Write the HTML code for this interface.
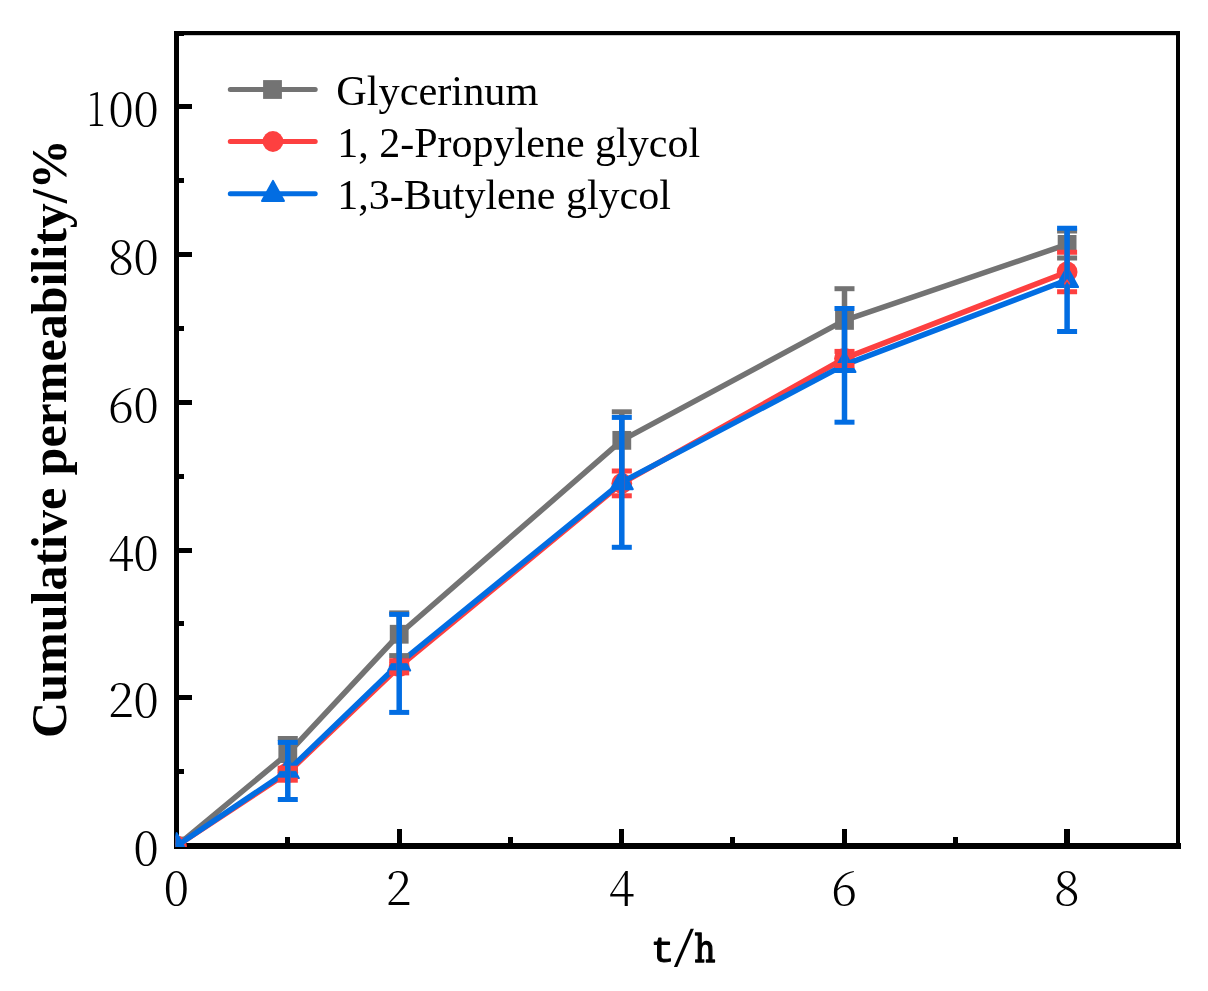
<!DOCTYPE html>
<html lang="en"><head><meta charset="utf-8"><title>Cumulative permeability</title>
<style>
html,body{margin:0;padding:0;background:#fff;width:1208px;height:991px;overflow:hidden}
svg{display:block;will-change:transform}
.tk{font-family:"Noto Serif CJK SC","Liberation Serif",serif;font-weight:300;font-size:47.3px;fill:#000}
.lg{font-family:"Liberation Serif",serif;font-size:42.3px;fill:#000}
.yl{font-family:"Liberation Serif",serif;font-weight:700;font-size:50px;fill:#000}
</style></head><body>
<svg width="1208" height="991" viewBox="0 0 1208 991">
<rect width="1208" height="991" fill="#fff"/>
<defs><clipPath id="pa"><rect x="175.5" y="33" width="1003" height="814"/></clipPath></defs>
<g fill="#000">
<rect x="174" y="31" width="5" height="818"/>
<rect x="174" y="843" width="1007" height="6"/>
<rect x="174" y="31" width="1006" height="4.2"/>
<rect x="1176" y="31" width="4" height="817"/>
<rect x="178" y="769" width="6" height="5"/>
<rect x="178" y="695" width="14" height="5"/>
<rect x="178" y="621" width="6" height="5"/>
<rect x="178" y="548" width="14" height="5"/>
<rect x="178" y="474" width="6" height="5"/>
<rect x="178" y="400" width="14" height="5"/>
<rect x="178" y="326" width="6" height="5"/>
<rect x="178" y="252" width="14" height="5"/>
<rect x="178" y="178" width="6" height="5"/>
<rect x="178" y="104" width="14" height="5"/>
<rect x="178" y="31" width="6" height="5"/>
<rect x="285" y="837" width="5" height="7"/>
<rect x="397" y="829" width="5" height="15"/>
<rect x="508" y="837" width="5" height="7"/>
<rect x="619" y="829" width="5" height="15"/>
<rect x="730" y="837" width="5" height="7"/>
<rect x="842" y="829" width="5" height="15"/>
<rect x="953" y="837" width="5" height="7"/>
<rect x="1064" y="829" width="6" height="15"/>
</g>
<g class="tk">
<text x="158.2" y="864.6" text-anchor="end" letter-spacing="-0.6">0</text>
<text x="158.2" y="717.1" text-anchor="end" letter-spacing="-0.6">20</text>
<text x="158.2" y="570.1" text-anchor="end" letter-spacing="-0.6">40</text>
<text x="158.2" y="422.1" text-anchor="end" letter-spacing="-0.6">60</text>
<text x="158.2" y="274.1" text-anchor="end" letter-spacing="-0.6">80</text>
<text x="158.2" y="126.1" text-anchor="end" letter-spacing="-0.6">00</text>
<text transform="translate(87 126.1) scale(0.72 1)">1</text>
<text x="176.2" y="905" text-anchor="middle">0</text>
<text x="398.86" y="905" text-anchor="middle">2</text>
<text x="621.52" y="905" text-anchor="middle">4</text>
<text x="844.18" y="905" text-anchor="middle">6</text>
<text x="1066.84" y="905" text-anchor="middle">8</text>
</g>
<g font-size="100" fill="#000" stroke="#000" stroke-linejoin="round"><text transform="matrix(0.4023 0 0 0.3729 650.58 962.35)" font-family="Liberation Mono, monospace" stroke-width="2.5">t</text><text transform="matrix(0.5583 0 0 0.3928 672.78 959.83)" font-family="Noto Serif CJK SC, Liberation Serif, serif" font-weight="700" stroke="none">/</text><text transform="matrix(0.3295 0 0 0.3949 694.34 962.31)" font-family="DejaVu Serif, serif" stroke-width="3.5">h</text></g>
<text class="yl" transform="translate(65.7 438.6) rotate(-90)" text-anchor="middle">Cumulative permeability/%</text>
<g clip-path="url(#pa)" fill="none" stroke-width="5" stroke-linejoin="round" stroke-linecap="butt">
<g stroke="#737373" stroke-width="5.5"><polyline points="176.5,846 287.8,753.6 399.2,634.25 621.8,440.35 844.5,320.4 1067.1,244.4"/></g>
<g fill="#737373"><rect x="167.1" y="836.6" width="18.8" height="18.8"/><rect x="278.4" y="744.2" width="18.8" height="18.8"/><rect x="389.8" y="624.85" width="18.8" height="18.8"/><rect x="612.4" y="430.95" width="18.8" height="18.8"/><rect x="835.1" y="311" width="18.8" height="18.8"/><rect x="1057.7" y="235" width="18.8" height="18.8"/></g>
<g stroke="#fd4040" stroke-width="5.5"><polyline points="176.5,846 287.8,772.7 399.2,666.7 621.8,483.4 844.5,358.4 1067.1,271.95"/></g>
<g fill="#fd4040"><circle cx="176.5" cy="846" r="10.4"/><circle cx="287.8" cy="772.7" r="10.4"/><circle cx="399.2" cy="666.7" r="10.4"/><circle cx="621.8" cy="483.4" r="10.4"/><circle cx="844.5" cy="358.4" r="10.4"/><circle cx="1067.1" cy="271.95" r="10.4"/></g>
<g stroke="#026de2" stroke-width="5.5"><polyline points="176.5,846 287.8,770.95 399.2,663.4 621.8,482.1 844.5,364.9 1067.1,279.95"/></g>
<g fill="#026de2" stroke="#026de2" stroke-width="2" stroke-linejoin="round"><path d="M176.5 833.1L187.5 853.1L165.5 853.1Z"/><path d="M287.8 758.05L298.8 778.05L276.8 778.05Z"/><path d="M399.2 650.5L410.2 670.5L388.2 670.5Z"/><path d="M621.8 469.2L632.8 489.2L610.8 489.2Z"/><path d="M844.5 352L855.5 372L833.5 372Z"/><path d="M1067.1 267.05L1078.1 287.05L1056.1 287.05Z"/></g>
<g stroke="#737373"><path stroke-width="5.5" d="M287.8 738.5V768.7"/><path d="M277.8 738.5H297.8"/><path d="M277.8 768.7H297.8"/><path stroke-width="5.5" d="M399.2 612.9V655.6"/><path d="M389.2 612.9H409.2"/><path d="M389.2 655.6H409.2"/><path stroke-width="5.5" d="M621.8 411.8V471"/><path d="M611.8 411.8H631.8"/><path stroke-width="4" d="M612.3 471H631.3"/><path stroke-width="5.5" d="M844.5 288.7V351.4"/><path d="M834.5 288.7H854.5"/><path stroke-width="4" d="M835 351.4H854"/><path stroke-width="5.5" d="M1067.1 230.9V257.9"/><path d="M1057.1 230.9H1077.1"/><path d="M1057.1 257.9H1077.1"/></g>
<g stroke="#fd4040"><path stroke-width="5.5" d="M287.8 768.2V780.2"/><path d="M277.8 768.2H297.8"/><path d="M277.8 780.2H297.8"/><path stroke-width="5.5" d="M399.2 660.7V672.9"/><path d="M389.2 660.7H409.2"/><path d="M389.2 672.9H409.2"/><path stroke-width="5.5" d="M621.8 471V495.8"/><path d="M611.8 471H631.8"/><path d="M611.8 495.8H631.8"/><path stroke-width="5.5" d="M844.5 351.4V365.5"/><path d="M834.5 351.4H854.5"/><path d="M834.5 365.5H854.5"/><path stroke-width="5.5" d="M1067.1 252.2V291.7"/><path d="M1057.1 252.2H1077.1"/><path d="M1057.1 291.7H1077.1"/></g>
<g stroke="#026de2"><path stroke-width="5.5" d="M287.8 742.4V799.5"/><path d="M277.8 742.4H297.8"/><path d="M277.8 799.5H297.8"/><path stroke-width="5.5" d="M399.2 614.4V712.4"/><path d="M389.2 614.4H409.2"/><path d="M389.2 712.4H409.2"/><path stroke-width="5.5" d="M621.8 417.4V547.3"/><path d="M611.8 417.4H631.8"/><path d="M611.8 547.3H631.8"/><path stroke-width="5.5" d="M844.5 308.5V422.2"/><path d="M834.5 308.5H854.5"/><path d="M834.5 422.2H854.5"/><path stroke-width="5.5" d="M1067.1 228.3V331.6"/><path d="M1057.1 228.3H1077.1"/><path d="M1057.1 331.6H1077.1"/></g>
<path stroke="#fd4040" stroke-width="1.6" d="M1064.5 284.4L1067.1 280.2L1069.7 284.4"/>
</g>
<g fill="none" stroke-width="5" stroke-linecap="round">
<path stroke="#737373" d="M230.3 89.5H315.2"/>
<g fill="#737373"><rect x="263.1" y="80.1" width="18.8" height="18.8"/></g>
<path stroke="#fd4040" d="M230.3 141.5H315.2"/>
<g fill="#fd4040"><circle cx="272.95" cy="141.5" r="10.4"/></g>
<path stroke="#026de2" d="M230.3 193.8H315.2"/>
<g fill="#026de2" stroke="#026de2" stroke-width="2" stroke-linejoin="round"><path d="M273 180.9L284 200.9L262 200.9Z"/></g>
</g>
<g class="lg">
<text x="336.3" y="105.4">Glycerinum</text>
<text x="337.2" y="157.3" font-size="42.03">1, 2-Propylene glycol</text>
<text x="337.2" y="208.9" font-size="42.03">1,3-Butylene glycol</text>
</g>
</svg>
</body></html>
